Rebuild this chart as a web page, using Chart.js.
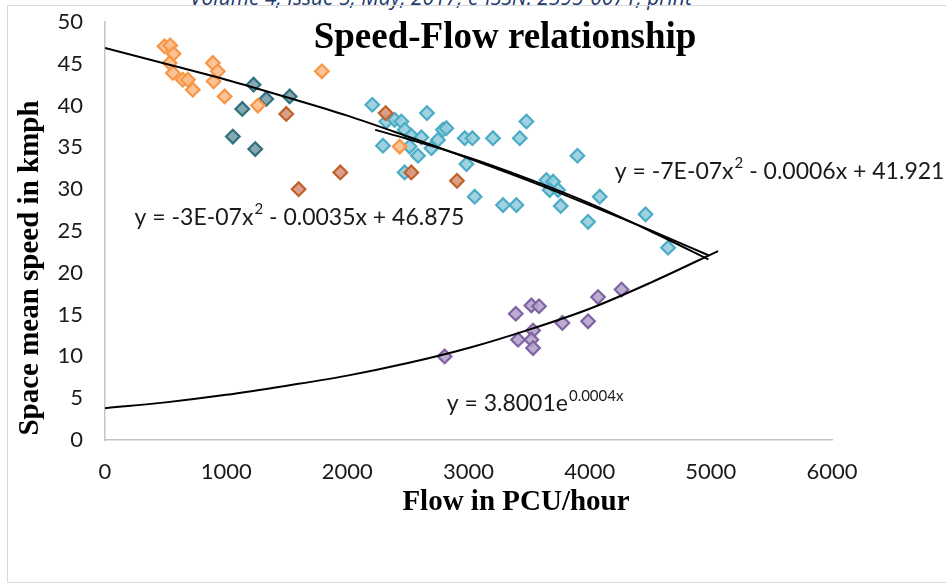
<!DOCTYPE html>
<html>
<head>
<meta charset="utf-8">
<title>Speed-Flow relationship</title>
<script src="https://cdn.jsdelivr.net/npm/chart.js@4.4.0/dist/chart.umd.min.js"></script>
<style>
  html, body { margin: 0; padding: 0; background: #fff; overflow: hidden; }
  #wrap { position: relative; width: 946px; height: 585px; overflow: hidden; }
  #cabecera {
    position: absolute; left: 190px; top: -17px; white-space: nowrap;
    font-family: "Open Sans", sans-serif; font-style: italic; font-size: 21px;
    color: #1f3a6e;
  }
  #marco {
    position: absolute; left: 7px; top: 5px; width: 980px; height: 578px;
    border: 1.5px solid #d9d9d9; box-sizing: border-box;
  }
  canvas { position: absolute; left: 0; top: 0; }
</style>
</head>
<body>
<div id="wrap">
  <div id="cabecera">Volume 4, Issue 5, May, 2017, e-ISSN: 2395-0071, print</div>
  <div id="marco"></div>
  <canvas id="chartFlujo" width="946" height="585"></canvas>
</div>
<script>
// Textos
const TITULO = "Speed-Flow relationship";
const TITULO_X = "Flow in PCU/hour";
const TITULO_Y = "Space mean speed in kmph";

// Ejes
const X_TICKS = [0, 1000, 2000, 3000, 4000, 5000, 6000];
const Y_TICKS = [0, 5, 10, 15, 20, 25, 30, 35, 40, 45, 50];

// Puntos (flujo PCU/h, velocidad km/h)
const naranjaX = [491, 538, 566, 533, 560, 642, 684, 725, 890, 931, 896, 987, 1262, 1790, 2432];
const naranjaY = [47.1, 47.2, 46.2, 45.1, 43.9, 43.1, 43.1, 41.9, 45.1, 44.1, 42.9, 41.1, 40.0, 44.1, 35.1];

const petroleoX = [1226, 1331, 1524, 1133, 1055, 1240];
const petroleoY = [42.5, 40.8, 41.1, 39.6, 36.3, 34.8];

const marronX = [1496, 1598, 1942, 2316, 2528, 2905];
const marronY = [39.0, 30.0, 32.0, 39.1, 32.0, 31.0];

const celesteX = [2206, 2657, 2322, 2391, 2446, 2473, 2294, 2528, 2611, 2514, 2583, 2694, 2748, 2789, 2817,
  2473, 2969, 3032, 3202, 3423, 3478, 2983, 3051, 3285, 3395, 3643, 3698, 3670, 3739, 3761,
  3899, 4083, 3987, 4461, 4647];
const celesteY = [40.1, 39.1, 38.1, 38.3, 38.1, 37.1, 35.2, 36.4, 36.2, 35.1, 34.0, 34.9, 35.9, 37.1, 37.3,
  32.0, 36.1, 36.1, 36.1, 36.1, 38.1, 33.0, 29.1, 28.1, 28.1, 31.1, 30.9, 29.9, 29.9, 28.0,
  34.0, 29.1, 26.1, 27.0, 23.0];

const violetaX = [2803, 3390, 3519, 3582, 3533, 3409, 3519, 3533, 3775, 3987, 4069, 4263];
const violetaY = [10.0, 15.1, 16.1, 16.0, 13.1, 12.0, 12.0, 11.0, 14.0, 14.2, 17.1, 18.0];

// Lineas de tendencia
const tendA_X = [0, 500, 1000, 1500, 2000, 2500, 3000, 3500, 4000, 4500, 4980];
const tendA_Y = [46.9, 45.0, 43.1, 41.0, 38.8, 36.3, 33.7, 31.0, 28.1, 25.1, 22.1];

const tendB_X = [2230, 2500, 3000, 3500, 4000, 4500, 4980];
const tendB_Y = [37.1, 36.0, 33.8, 31.2, 28.3, 25.0, 21.6];

const tendC_X = [0, 500, 1000, 1500, 2000, 2500, 3000, 3500, 4000, 4500, 5060];
const tendC_Y = [3.8, 4.5, 5.4, 6.5, 7.7, 9.2, 11.0, 13.2, 15.7, 18.8, 22.6];

// Ecuaciones: [texto, exponente, resto], ancla en coordenadas de datos
const ECUACIONES = [
  { partes: ["y = -7E-07x", "2", " - 0.0006x + 41.921"], x: 4207, y: 32.1 },
  { partes: ["y = -3E-07x", "2", " - 0.0035x + 46.875"], x: 244, y: 26.6 },
  { partes: ["y = 3.8001e", "0.0004x", ""], x: 2820, y: 4.3 },
];

const FUENTE = "Lato, 'Open Sans', sans-serif";
const SERIF = "'Liberation Serif', 'DejaVu Serif', serif";

function pares(xs, ys) {
  return xs.map((x, i) => ({ x, y: ys[i] }));
}

function serie(xs, ys, relleno, borde) {
  return {
    data: pares(xs, ys),
    pointStyle: "rectRot",
    pointRadius: 6.8,
    pointBorderWidth: 2.2,
    backgroundColor: relleno,
    borderColor: borde,
    showLine: false,
    order: 1,
  };
}

function tendencia(xs, ys) {
  return {
    data: pares(xs, ys),
    showLine: true,
    pointRadius: 0,
    borderColor: "#000",
    borderWidth: 2,
    cubicInterpolationMode: "monotone",
    fill: false,
    order: 0,
  };
}

function dibujarEcuacion(ctx, partes, x, y) {
  ctx.font = "23px " + FUENTE;
  ctx.textBaseline = "middle";
  ctx.textAlign = "left";
  ctx.fillText(partes[0], x, y);
  let w = ctx.measureText(partes[0]).width;
  ctx.font = "15px " + FUENTE;
  ctx.fillText(partes[1], x + w + 1, y - 8);
  w += ctx.measureText(partes[1]).width + 1;
  ctx.font = "23px " + FUENTE;
  ctx.fillText(partes[2], x + w, y);
}

const textosPlugin = {
  id: "textos",
  afterDatasetsDraw(chart) {
    const ctx = chart.ctx;
    const sx = chart.scales.x;
    const sy = chart.scales.y;
    ctx.save();
    ctx.fillStyle = "#000";

    ctx.font = "bold 37px " + SERIF;
    ctx.textAlign = "center";
    ctx.textBaseline = "middle";
    ctx.fillText(TITULO, 505, 38);

    ctx.font = "bold 29px " + SERIF;
    ctx.fillText(TITULO_X, 516, 503);

    ctx.save();
    ctx.translate(31, 268);
    ctx.rotate(-Math.PI / 2);
    ctx.fillText(TITULO_Y, 0, 0);
    ctx.restore();

    ctx.fillStyle = "#1a1a1a";
    ECUACIONES.forEach((e) => {
      dibujarEcuacion(ctx, e.partes, sx.getPixelForValue(e.x), sy.getPixelForValue(e.y));
    });
    ctx.restore();
  },
};

document.addEventListener("DOMContentLoaded", () => {
  const ctx = document.getElementById("chartFlujo").getContext("2d");

  new Chart(ctx, {
    type: "scatter",
    data: {
      datasets: [
        tendencia(tendA_X, tendA_Y),
        tendencia(tendB_X, tendB_Y),
        tendencia(tendC_X, tendC_Y),
        serie(naranjaX, naranjaY, "rgba(252,188,140,0.9)", "#f79646"),
        serie(petroleoX, petroleoY, "rgba(120,158,170,0.9)", "#31707f"),
        serie(marronX, marronY, "rgba(216,150,125,0.9)", "#c0602a"),
        serie(celesteX, celesteY, "rgba(150,205,222,0.9)", "#4bacc6"),
        serie(violetaX, violetaY, "rgba(180,165,205,0.9)", "#8064a2"),
      ],
    },
    options: {
      responsive: false,
      animation: false,
      devicePixelRatio: 1,
      layout: { padding: { left: 0, right: 114, top: 22, bottom: 0 } },
      plugins: {
        legend: { display: false },
        tooltip: { enabled: false },
      },
      scales: {
        x: {
          type: "linear",
          min: X_TICKS[0],
          max: X_TICKS[X_TICKS.length - 1],
          afterBuildTicks: (s) => { s.ticks = X_TICKS.map((v) => ({ value: v })); },
          ticks: {
            color: "#1a1a1a",
            font: { family: FUENTE, size: 22 },
            padding: 19,
            callback: (v) => String(v),
          },
          grid: { display: false, drawTicks: false },
          border: { display: true, color: "#c4c4c4", width: 1.5 },
          afterFit: (s) => {
            s.height = 145;
            s.paddingLeft = 0;
            s.paddingRight = 0;
          },
        },
        y: {
          type: "linear",
          min: Y_TICKS[0],
          max: Y_TICKS[Y_TICKS.length - 1],
          afterBuildTicks: (s) => { s.ticks = Y_TICKS.map((v) => ({ value: v })); },
          ticks: {
            color: "#1a1a1a",
            font: { family: FUENTE, size: 22 },
            padding: 22,
            callback: (v) => String(v),
          },
          grid: { display: false, drawTicks: false },
          border: { display: true, color: "#c4c4c4", width: 1.5 },
          afterFit: (s) => {
            s.width = 105;
            s.paddingTop = 0;
            s.paddingBottom = 0;
          },
        },
      },
    },
    plugins: [textosPlugin],
  });
});
</script>
</body>
</html>
